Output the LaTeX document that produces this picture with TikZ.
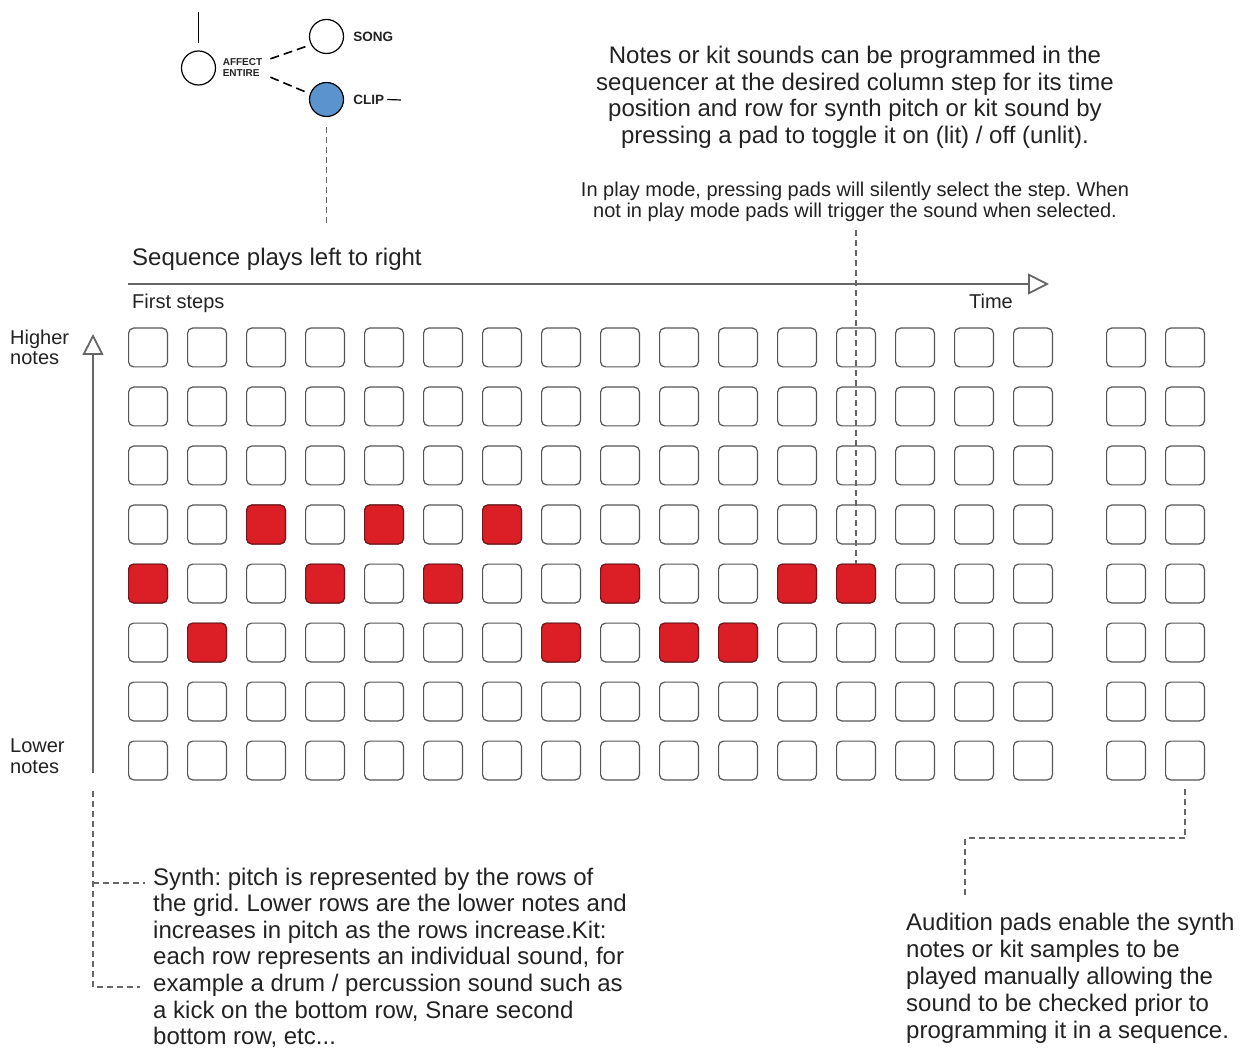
\documentclass[tikz,border=0pt]{standalone}
\usepackage{fontspec}
\setmainfont{Liberation Sans}
\usetikzlibrary{calc, positioning, arrows.meta}

\definecolor{inkgray}{HTML}{666666}
\definecolor{padline}{HTML}{555555}
\definecolor{padred}{HTML}{DC1F26}
\definecolor{padredline}{HTML}{7A1418}
\definecolor{clipblue}{HTML}{5B93CE}
\definecolor{textgray}{HTML}{222222}

\frenchspacing

\begin{document}
\begin{tikzpicture}[
        x=1pt, y=-1pt,
        >={Triangle[open, length=21pt, width=21pt]},
        font=\fontsize{24}{26.6}\selectfont,
        text=textgray,
        pad/.style={
            draw=padline,
            fill=white,
            line width=1.2pt,
            rounded corners=5pt,
            minimum size=38.8pt,
            inner sep=0pt
        },
        lit/.style={pad, fill=padred, draw=padredline},
        button/.style={circle, draw=black, line width=1.2pt, minimum size=34pt, inner sep=0pt},
        caption/.style={inner sep=0pt, align=left},
        smalltext/.style={inner sep=0pt, font=\fontsize{20}{21}\selectfont},
        capslabel/.style={inner sep=0pt, font=\bfseries\fontsize{13.5}{14}\selectfont},
        axis/.style={draw=inkgray, line width=1.8pt},
        dashline/.style={draw=inkgray, line width=1.9pt, dash pattern=on 6pt off 4pt}
    ]

    \useasboundingbox (0,0) rectangle (1243,1048);

    % step pads and audition pads
    \foreach \r in {1,...,8} {
        \foreach \c in {1,...,16}
            \node[pad] (pad-\r-\c) at ({148+59*(\c-1)}, {347.5+59*(\r-1)}) {};
        \foreach \c in {17,18}
            \node[pad] (pad-\r-\c) at ({1126+59*(\c-17)}, {347.5+59*(\r-1)}) {};
    }

    % programmed (lit) steps
    \foreach \r/\c in {4/3, 4/5, 4/7, 5/1, 5/4, 5/6, 5/9, 5/12, 5/13, 6/2, 6/8, 6/10, 6/11}
        \node[lit] (lit-\r-\c) at (pad-\r-\c) {};

    % affect entire buttons
    \node[button] (affect) at (198.5, 68) {};
    \node[right=6.5pt of affect, inner sep=0pt, align=left,
          font=\bfseries\fontsize{10}{11}\selectfont] (affecttxt) {AFFECT\\ENTIRE};
    \node[button] (song) at (326.5, 36.5) {};
    \node[button, fill=clipblue] (clip) at (326.5, 99.5) {};
    \node[capslabel, right=9pt of song] (songtxt) {SONG};
    \node[capslabel, right=9pt of clip] (cliptxt) {CLIP};

    \coordinate (affecttop) at (198.5, 12);
    \coordinate (clipstub) at (401, 100);
    \coordinate (clipfoot) at (326.5, 225);
    \draw[line width=1.2pt] (affecttop) -- ([yshift=7pt]affect.north);
    \draw[line width=1.2pt] ([xshift=3pt]cliptxt.east) -- (clipstub);
    \draw[line width=1.6pt, dash pattern=on 9pt off 5pt, shorten >=5pt]
        ([xshift=8pt]affecttxt.north east) -- (song.208);
    \draw[line width=1.6pt, dash pattern=on 9pt off 5pt, shorten >=5pt]
        ([xshift=8pt]affecttxt.south east) -- (clip.161);
    \draw[dashline] ([yshift=-10pt]clip.south) -- (clipfoot);

    % explanation texts
    \node[anchor=north, inner sep=0pt, align=center] (notestxt) at (855, 46) {
        Notes or kit sounds can be programmed in the\\
        sequencer at the desired column step for its time\\
        position and row for synth pitch or kit sound by\\
        pressing a pad to toggle it on (lit) / off (unlit).
    };
    \node[smalltext, anchor=north, align=center] (playtxt) at (855, 181.5) {
        In play mode, pressing pads will silently select the step. When\\
        not in play mode pads will trigger the sound when selected.
    };

    % time axis
    \node[anchor=base west, inner sep=0pt] (seqtxt) at (132, 266) {Sequence plays left to right};
    \node[smalltext, anchor=base west] (firsttxt) at (132, 309) {First steps};
    \node[smalltext, anchor=base east] (timetxt) at (1013, 309) {Time};
    \coordinate (timestart) at (128, 284);
    \coordinate (timeend) at (1049, 284);
    \draw[axis, ->] (timestart) -- (timeend);

    % pitch axis
    \node[caption, anchor=north west, font=\fontsize{20}{20.5}\selectfont] (higher) at (10, 329.5) {Higher\\notes};
    \node[caption, anchor=north west, font=\fontsize{20}{21}\selectfont] (lower) at (10, 738.5) {Lower\\notes};
    \coordinate (pitchlow) at (93, 773);
    \coordinate (pitchhigh) at (93, 334);
    \draw[axis, ->] (pitchlow) -- (pitchhigh);

    \draw[dashline] ($(lit-5-13.north |- playtxt.south)+(0,8)$) -- (lit-5-13.north);

    % bottom notes
    \node[caption, anchor=north west] (synthtxt) at (153, 867.5) {
        Synth: pitch is represented by the rows of\\
        the grid. Lower rows are the lower notes and\\
        increases in pitch as the rows increase.Kit:\\
        each row represents an individual sound, for\\
        example a drum / percussion sound such as\\
        a kick on the bottom row, Snare second\\
        bottom row, etc...
    };
    \node[caption, anchor=north west, font=\fontsize{24}{27}\selectfont] (audtxt) at (906, 912.5) {
        Audition pads enable the synth\\
        notes or kit samples to be\\
        played manually allowing the\\
        sound to be checked prior to\\
        programming it in a sequence.
    };

    \coordinate (pitchfoot) at (93, 791);
    \coordinate (synthfirst) at (145, 883);
    \coordinate (synthfifth) at (140, 987);
    \draw[dashline, line width=1.5pt] (pitchfoot) -- (pitchfoot |- synthfifth) -- (synthfifth);
    \draw[dashline, line width=1.5pt] (pitchfoot |- synthfirst) -- (synthfirst);

    \coordinate (audtop) at (965, 898);
    \draw[dashline] ([yshift=-8pt]pad-8-18.south) |- ($(audtop)+(0,-60)$) -- (audtop);

\end{tikzpicture}
\end{document}
